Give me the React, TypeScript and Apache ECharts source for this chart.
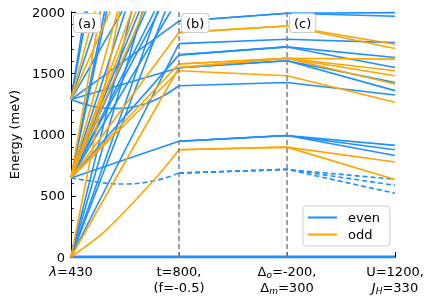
import React, { useEffect, useRef } from "react";
import * as echarts from "echarts";

const FONT = "DejaVu Sans";
const BLUE = "#1E90FF";
const ORANGE = "#FFA500";

// x tick labels at positions 0..3
const xTickLabels = [
  "{it|λ}=430",
  "t=800,\n(f=-0.5)",
  "Δ{sub|o}=-200,\nΔ{sub|m}=300",
  "U=1200,\n{it|J}{sub|H}=330",
];
const panelLabels = ["(a)", "(b)", "(c)"];

// Region (a): straight levels, [energy at x=0, energy at x=1] (meV)
const evenA: number[][] = [
  [1285, 6785], [1285, 6052], [1285, 3933], [1285, 2806],
  [645, 5016], [645, 4751], [645, 3355], [645, 2796], [645, 2609], [645, 2405], [645, 2318], [645, 2118],
  [0, 3571], [0, 3030], [0, 2500], [0, 2299],
  [1285, 1925], [0, 1742], [645, 1650], [1285, 1545], [645, 945],
];
const oddA: number[][] = [
  [1285, 4535], [1285, 3271],
  [645, 5664], [645, 3796], [645, 3065], [645, 2903], [645, 2667],
  [0, 4444],
  [645, 1832], [645, 1520], [645, 1575], [0, 1547],
];
// Region (a): curved levels
const evenCurveX = [0, 0.2, 0.4, 0.6, 0.8, 1];
const evenCurveY = [1285, 1230, 1212, 1228, 1290, 1398];
const dashedCurveX = [0, 0.33, 0.5, 0.79, 1];
const dashedCurveY = [645, 602, 596, 626, 685];
const oddCurveX = [0, 0.32, 0.79, 1];
const oddCurveY = [0, 215, 650, 876];

// Regions (b),(c): energies at x = 1, 2, 3
const evenBC: number[][] = [
  [1925, 1990, 1965], [1925, 1990, 1995], [1742, 1778, 1750], [1650, 1715, 1628], [1650, 1715, 1547],
  [1545, 1602, 1425], [1545, 1602, 1358], [1398, 1425, 1323], [945, 992, 911], [945, 992, 876], [945, 992, 829],
];
const oddBC: number[][] = [
  [1832, 1886, 1737], [1832, 1886, 1702], [1575, 1623, 1615], [1575, 1623, 1520], [1547, 1623, 1480],
  [1547, 1623, 1412], [1520, 1480, 1263], [876, 897, 775], [876, 897, 632],
];
const dashedBC: number[][] = [
  [685, 715, 634], [685, 715, 585], [685, 715, 520],
];
const groundLevel = [0, 0, 0, 0];

function lineSeries(name: string, color: string, data: number[][], extra: any = {}) {
  const { lineStyle, ...rest } = extra;
  return {
    type: "line",
    name,
    data,
    showSymbol: false,
    symbol: "none",
    silent: true,
    color,
    itemStyle: { color },
    ...rest,
    lineStyle: { color, width: 1.6, ...(lineStyle || {}) },
  };
}

export default function App() {
  const ref = useRef<HTMLDivElement>(null);
  useEffect(() => {
    if (!ref.current) return;
    const chart = echarts.init(ref.current, null, { renderer: "svg" });
    const series: any[] = [];
    series.push(
      lineSeries("even", BLUE, groundLevel.map((v, i) => [i, v]), {
        lineStyle: { width: 3 },
        z: 3,
        markLine: {
          silent: true,
          symbol: "none",
          label: { show: false },
          lineStyle: { color: "#808080", type: [5, 3], width: 1.5 },
          data: [{ xAxis: 1 }, { xAxis: 2 }],
        },
      })
    );
    evenA.forEach((l) => series.push(lineSeries("even", BLUE, [[0, l[0]], [1, l[1]]])));
    series.push(lineSeries("even", BLUE, evenCurveX.map((x, i) => [x, evenCurveY[i]]), { smooth: 0.4 }));
    series.push(
      lineSeries("even", BLUE, dashedCurveX.map((x, i) => [x, dashedCurveY[i]]), {
        smooth: 0.4,
        lineStyle: { type: [5, 3] },
      })
    );
    evenBC.forEach((l) => series.push(lineSeries("even", BLUE, l.map((v, i) => [i + 1, v]))));
    dashedBC.forEach((l) =>
      series.push(lineSeries("even", BLUE, l.map((v, i) => [i + 1, v]), { lineStyle: { type: [5, 3] } }))
    );
    oddA.forEach((l) => series.push(lineSeries("odd", ORANGE, [[0, l[0]], [1, l[1]]])));
    series.push(lineSeries("odd", ORANGE, oddCurveX.map((x, i) => [x, oddCurveY[i]]), { smooth: 0.3 }));
    oddBC.forEach((l) => series.push(lineSeries("odd", ORANGE, l.map((v, i) => [i + 1, v]))));

    const axisLineStyle = { color: "#000", width: 1 };
    chart.setOption({
      animation: false,
      textStyle: { fontFamily: FONT },
      grid: { left: 63, right: 37, top: 12, bottom: 42, containLabel: false },
      legend: {
        data: ["even", "odd"],
        orient: "vertical",
        left: 303,
        top: 206,
        icon: "rect",
        itemWidth: 29,
        itemHeight: 2,
        itemGap: 4,
        padding: [5, 10, 5, 5],
        backgroundColor: "#fff",
        borderColor: "#cccccc",
        borderWidth: 1,
        borderRadius: 3,
        textStyle: { fontSize: 13, fontFamily: FONT, color: "#000", padding: [0, 0, 0, 6] },
      },
      xAxis: [
        {
          type: "value",
          min: 0,
          max: 3,
          interval: 1,
          axisLine: { lineStyle: axisLineStyle },
          axisTick: { inside: true, length: 5, lineStyle: axisLineStyle },
          splitLine: { show: false },
          axisLabel: {
            color: "#000",
            fontSize: 13,
            fontFamily: FONT,
            margin: 6,
            lineHeight: 16,
            formatter: (v: number) => xTickLabels[Math.round(v)] ?? "",
            rich: {
              it: { fontStyle: "italic", fontSize: 13, fontFamily: FONT, lineHeight: 16 },
              sub: { fontStyle: "italic", fontSize: 9, fontFamily: FONT, verticalAlign: "bottom", lineHeight: 16 },
            },
          },
        },
        {
          type: "value",
          min: 0,
          max: 3,
          position: "top",
          axisLine: { show: true, lineStyle: axisLineStyle },
          axisTick: { show: false },
          axisLabel: { show: false },
          splitLine: { show: false },
        },
      ],
      yAxis: [
        {
          type: "value",
          min: 0,
          max: 2000,
          interval: 500,
          name: "Energy (meV)",
          nameLocation: "middle",
          nameGap: 49,
          nameTextStyle: { fontSize: 13, color: "#000", fontFamily: FONT },
          axisLine: { show: true, lineStyle: axisLineStyle },
          axisTick: { show: true, inside: true, length: 5, lineStyle: axisLineStyle },
          minorTick: { show: true, splitNumber: 5, length: 3, lineStyle: { color: "#000", width: 0.8 } },
          splitLine: { show: false },
          axisLabel: {
            color: "#000",
            fontSize: 13,
            fontFamily: FONT,
            margin: 6,
            formatter: (v: number) => String(v),
          },
        },
        {
          type: "value",
          min: 0,
          max: 2000,
          position: "right",
          axisLine: { show: true, lineStyle: axisLineStyle },
          axisTick: { show: false },
          axisLabel: { show: false },
          splitLine: { show: false },
        },
      ],
      series,
    });

    const top = chart.convertToPixel({ yAxisIndex: 0 }, 2000) as number;
    const graphics = panelLabels.map((t, i) => {
      const px = chart.convertToPixel({ xAxisIndex: 0 }, i) as number;
      return {
        type: "text",
        x: px + 3,
        y: top + 2,
        z: 100,
        style: {
          text: t,
          fontSize: 13,
          fontFamily: FONT,
          fill: "#000",
          backgroundColor: "#fff",
          borderColor: "#cccccc",
          borderWidth: 1,
          borderRadius: 3,
          padding: [3, 4, 2, 4],
        },
      };
    });
    chart.setOption({ graphic: graphics });

    return () => chart.dispose();
  }, []);
  return <div ref={ref} style={{ position: "fixed", left: 0, top: 0, width: 432, height: 299 }} />;
}
